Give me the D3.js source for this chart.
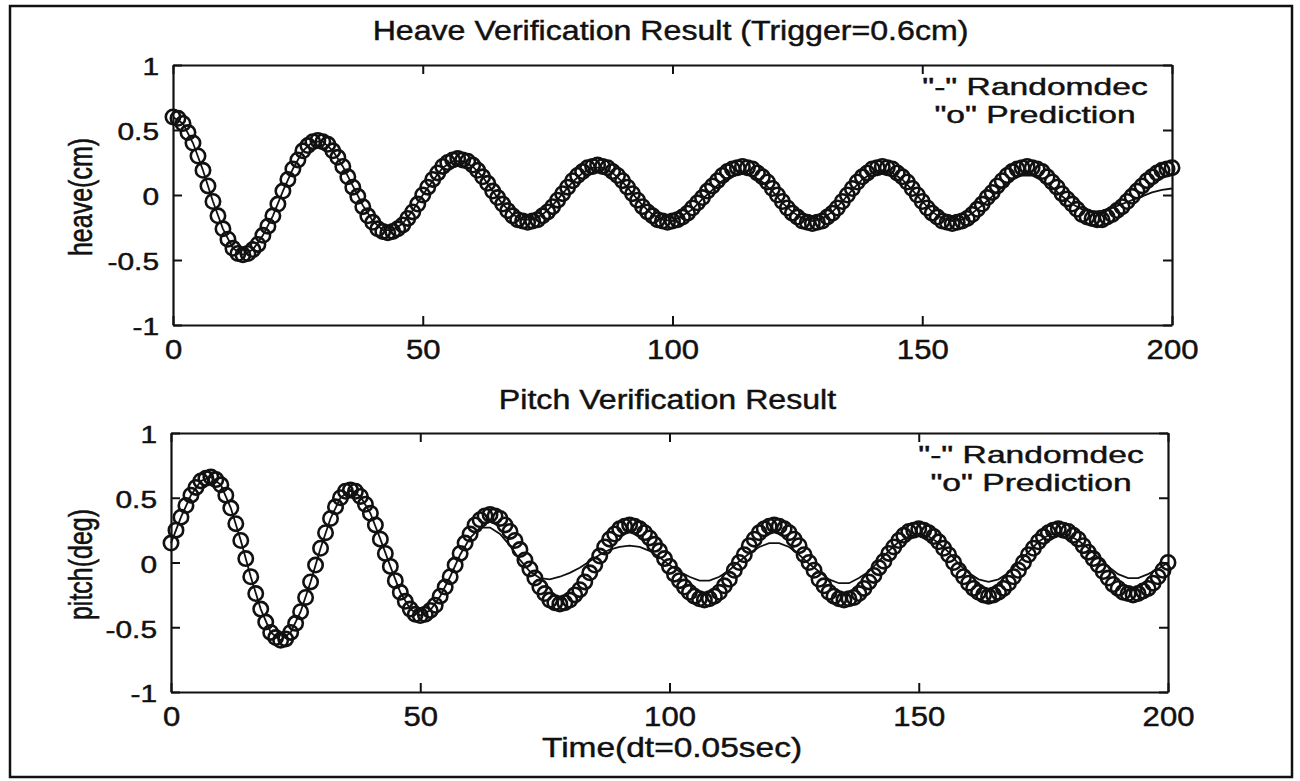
<!DOCTYPE html>
<html>
<head>
<meta charset="utf-8">
<script src="https://cdn.jsdelivr.net/npm/d3@7"></script>
<style>
  body { margin: 0; background: #fff; }
  svg text { font-family: "Liberation Sans", Arial, sans-serif; fill: #111; stroke: #111; stroke-width: 0.45px; }
</style>
</head>
<body>
<svg id="chart"></svg>
<script>
// heave, circles = prediction, one value per sample (0..200)
const heavePrediction = [
  0.60,0.59,0.55,0.48,0.40,0.30,0.19,0.07,-0.05,-0.16,-0.26,-0.34,-0.41,-0.45,-0.46,
  -0.45,-0.42,-0.38,-0.31,-0.24,-0.16,-0.07,0.03,0.12,0.20,0.27,0.34,0.38,0.41,0.42,
  0.41,0.39,0.34,0.29,0.22,0.14,0.06,-0.01,-0.09,-0.16,-0.21,-0.26,-0.28,-0.29,
  -0.28,-0.26,-0.23,-0.18,-0.13,-0.07,0.00,0.06,0.12,0.17,0.22,0.25,0.27,0.28,
  0.27,0.26,0.23,0.19,0.14,0.09,0.03,-0.02,-0.07,-0.12,-0.16,-0.19,-0.20,-0.21,
  -0.20,-0.19,-0.16,-0.13,-0.09,-0.04,0.01,0.06,0.11,0.15,0.18,0.21,0.22,0.23,
  0.22,0.21,0.18,0.15,0.11,0.06,0.01,-0.04,-0.09,-0.13,-0.16,-0.19,-0.20,-0.21,
  -0.20,-0.19,-0.17,-0.14,-0.10,-0.06,-0.02,0.03,0.07,0.11,0.15,0.18,0.20,0.21,0.22,
  0.21,0.20,0.17,0.14,0.10,0.05,0.00,-0.05,-0.10,-0.14,-0.17,-0.20,-0.21,-0.22,
  -0.21,-0.20,-0.17,-0.14,-0.10,-0.05,0.00,0.05,0.10,0.14,0.17,0.20,0.21,0.22,
  0.21,0.20,0.17,0.14,0.10,0.05,0.00,-0.05,-0.10,-0.14,-0.17,-0.20,-0.21,-0.22,
  -0.21,-0.20,-0.18,-0.15,-0.11,-0.07,-0.02,0.02,0.07,0.11,0.15,0.18,0.20,0.21,0.22,
  0.21,0.20,0.18,0.14,0.10,0.06,0.01,-0.03,-0.07,-0.11,-0.15,-0.17,-0.18,-0.19,
  -0.19,-0.17,-0.15,-0.12,-0.09,-0.05,-0.01,0.03,0.07,0.11,0.14,0.17,0.19,0.20,0.21
];

// heave, line = randomdec, read every 2 samples (0,2,...,200)
const heaveRandomdec = [
  0.60,0.55,0.40,0.19,-0.05,-0.26,-0.41,-0.46,
  -0.42,-0.31,-0.16,0.03,0.20,0.34,0.41,
  0.41,0.34,0.22,0.07,-0.08,-0.20,-0.27,
  -0.27,-0.22,-0.12,0.00,0.11,0.21,0.26,
  0.26,0.22,0.14,0.03,-0.07,-0.15,-0.19,
  -0.19,-0.15,-0.08,0.01,0.10,0.17,0.21,
  0.21,0.17,0.10,0.01,-0.08,-0.15,-0.19,
  -0.20,-0.16,-0.11,-0.03,0.04,0.11,0.15,0.17,
  0.15,0.10,0.03,-0.06,-0.13,-0.18,-0.20,
  -0.18,-0.13,-0.05,0.04,0.12,0.17,0.19,
  0.17,0.12,0.04,-0.05,-0.13,-0.18,-0.20,
  -0.19,-0.14,-0.08,-0.01,0.06,0.12,0.15,
  0.15,0.11,0.06,-0.01,-0.07,-0.11,-0.13,
  -0.12,-0.10,-0.07,-0.04,-0.01,0.02,0.04,0.05
];

// pitch, circles = prediction (0..200)
const pitchPrediction = [
  0.15,0.25,0.35,0.44,0.52,0.58,0.63,0.65,0.66,
  0.64,0.60,0.52,0.42,0.30,0.17,0.03,-0.11,-0.24,-0.36,-0.46,-0.54,-0.58,-0.60,
  -0.59,-0.54,-0.47,-0.38,-0.27,-0.15,-0.02,0.11,0.23,0.34,0.43,0.50,0.55,0.56,
  0.55,0.51,0.45,0.38,0.29,0.18,0.07,-0.03,-0.14,-0.23,-0.30,-0.36,-0.40,-0.41,
  -0.40,-0.37,-0.33,-0.26,-0.19,-0.11,-0.02,0.07,0.15,0.22,0.29,0.33,0.36,0.37,
  0.36,0.34,0.29,0.24,0.17,0.10,0.02,-0.05,-0.12,-0.19,-0.24,-0.29,-0.31,-0.32,
  -0.31,-0.29,-0.25,-0.21,-0.15,-0.08,-0.02,0.05,0.12,0.18,0.22,0.26,0.28,0.29,
  0.28,0.26,0.23,0.19,0.14,0.09,0.03,-0.03,-0.09,-0.14,-0.19,-0.23,-0.26,-0.28,-0.29,
  -0.28,-0.26,-0.23,-0.18,-0.13,-0.06,0.00,0.06,0.13,0.18,0.23,0.26,0.28,0.29,
  0.28,0.26,0.23,0.18,0.13,0.06,0.00,-0.06,-0.13,-0.18,-0.23,-0.26,-0.28,-0.29,
  -0.28,-0.27,-0.24,-0.20,-0.15,-0.10,-0.04,0.01,0.07,0.12,0.17,0.21,0.24,0.25,0.26,
  0.25,0.23,0.20,0.16,0.11,0.06,0.00,-0.06,-0.11,-0.16,-0.20,-0.23,-0.25,-0.26,
  -0.25,-0.23,-0.20,-0.16,-0.11,-0.06,0.00,0.06,0.11,0.16,0.20,0.23,0.25,0.26,
  0.25,0.24,0.21,0.18,0.13,0.08,0.03,-0.02,-0.07,-0.12,-0.17,-0.20,-0.23,-0.24,-0.25,
  -0.24,-0.22,-0.20,-0.16,-0.11,-0.06,0.00
];

// pitch, line = randomdec, every 2 samples
const pitchRandomdec = [
  0.15,0.35,0.52,0.63,0.66,0.60,0.42,0.17,-0.11,-0.36,-0.54,-0.60,
  -0.54,-0.38,-0.15,0.11,0.34,0.50,0.56,
  0.51,0.38,0.18,-0.03,-0.23,-0.36,-0.41,
  -0.37,-0.26,-0.11,0.06,0.19,0.27,
  0.27,0.22,0.13,0.02,-0.07,-0.12,
  -0.13,-0.11,-0.08,-0.04,0.01,0.06,0.10,0.12,0.13,
  0.12,0.09,0.04,-0.02,-0.07,-0.11,-0.14,
  -0.14,-0.11,-0.06,0.01,0.07,0.12,0.15,
  0.15,0.12,0.06,-0.01,-0.07,-0.13,-0.16,
  -0.16,-0.12,-0.07,0.01,0.09,0.16,0.20,0.22,
  0.20,0.15,0.08,-0.01,-0.08,-0.13,-0.15,
  -0.13,-0.08,0.00,0.08,0.16,0.21,0.23,
  0.21,0.17,0.11,0.04,-0.03,-0.09,-0.12,
  -0.12,-0.09,-0.05,0.00
];

const xTicks = [0, 50, 100, 150, 200];
const yTicks = [-1, -0.5, 0, 0.5, 1];
const legendLines = ['"-" Randomdec', '"o" Prediction'];
const xLabel = "Time(dt=0.05sec)";

const width = 1300;
const height = 781;

const svg = d3.select("#chart").attr("width", width).attr("height", height);

// outer figure frame
svg.append("rect")
    .attr("x", 10).attr("y", 6)
    .attr("width", 1282).attr("height", 771)
    .attr("fill", "none").attr("stroke", "#111").attr("stroke-width", 2.5);

// the scan is stretched sideways, so text gets a horizontal scale
function label(g, x, y, str, size, sx, anchor) {
    return g.append("text")
        .attr("transform", `translate(${x},${y}) scale(${sx},1)`)
        .attr("text-anchor", anchor || "middle")
        .attr("dominant-baseline", "central")
        .style("font-size", size + "px")
        .text(str);
}

const panels = [
    { title: "Heave Verification Result (Trigger=0.6cm)", ylabel: "heave(cm)",
      pred: heavePrediction, rd: heaveRandomdec,
      left: 173, right: 1172, top: 65, bottom: 325, titleY: 30 },
    { title: "Pitch Verification Result", ylabel: "pitch(deg)",
      pred: pitchPrediction, rd: pitchRandomdec,
      left: 171, right: 1168, top: 433, bottom: 692, titleY: 399 }
];

panels.forEach(function (p) {
    const x = d3.scaleLinear().domain([0, 200]).range([p.left, p.right]);
    const y = d3.scaleLinear().domain([-1, 1]).range([p.bottom, p.top]);
    const g = svg.append("g");

    // data: line under the circles
    const line = d3.line()
        .x((d, i) => x(i * 2))
        .y((d) => y(d));
    g.append("path")
        .datum(p.rd)
        .attr("d", line)
        .attr("fill", "none")
        .attr("stroke", "#111")
        .attr("stroke-width", 1.8);

    g.selectAll("circle")
        .data(p.pred)
        .enter()
        .append("circle")
        .attr("cx", (d, i) => x(i))
        .attr("cy", (d) => y(d))
        .attr("r", 7.2)
        .attr("fill", "none")
        .attr("stroke", "#111")
        .attr("stroke-width", 2.6);

    // box + inward ticks on all sides
    const tk = 9;
    const ax = [
        d3.axisBottom(x).tickValues(xTicks).tickSizeInner(-tk).tickSizeOuter(0).tickPadding(14),
        d3.axisTop(x).tickValues(xTicks).tickSizeInner(-tk).tickSizeOuter(0).tickFormat(""),
        d3.axisLeft(y).tickValues(yTicks).tickSizeInner(-tk).tickSizeOuter(0).tickPadding(14).tickFormat((d) => String(d)),
        d3.axisRight(y).tickValues(yTicks).tickSizeInner(-tk).tickSizeOuter(0).tickFormat("")
    ];
    const pos = [
        `translate(0,${p.bottom})`, `translate(0,${p.top})`,
        `translate(${p.left},0)`, `translate(${p.right},0)`
    ];
    ax.forEach(function (a, i) {
        const ag = g.append("g").attr("transform", pos[i]).call(a);
        ag.select(".domain").attr("stroke", "#111").attr("stroke-width", 2.2);
        ag.selectAll(".tick line").attr("stroke", "#111").attr("stroke-width", 2);
        ag.selectAll("text")
            .attr("font-family", null)
            .attr("fill", "#111");
        if (i === 0) {
            ag.selectAll(".tick text")
                .attr("dy", null).attr("y", 25)
                .attr("dominant-baseline", "central")
                .attr("transform", "scale(1.15,1)")
                .style("font-size", "27px");
        }
        if (i === 2) {
            ag.selectAll(".tick text")
                .attr("dy", null).attr("y", 2)
                .attr("x", -14 / 1.3)
                .attr("dominant-baseline", "central")
                .attr("transform", "scale(1.3,1)")
                .style("font-size", "23px");
        }
    });

    label(svg, (p.left + p.right) / 2 - 2, p.titleY, p.title, 27, 1.19);

    svg.append("text")
        .attr("transform", `translate(81,${(p.top + p.bottom) / 2 + 2}) rotate(-90) scale(1,1.3)`)
        .attr("text-anchor", "middle")
        .attr("dominant-baseline", "central")
        .style("font-size", "25px")
        .text(p.ylabel);

    // two-line legend note, lines centred on each other
    const lx = p.right - 137;
    legendLines.forEach(function (s, i) {
        label(svg, lx, p.top + 22 + i * 28, s, 24, 1.4);
    });
});

label(svg, 672, 747, xLabel, 27, 1.24);
</script>
</body>
</html>
